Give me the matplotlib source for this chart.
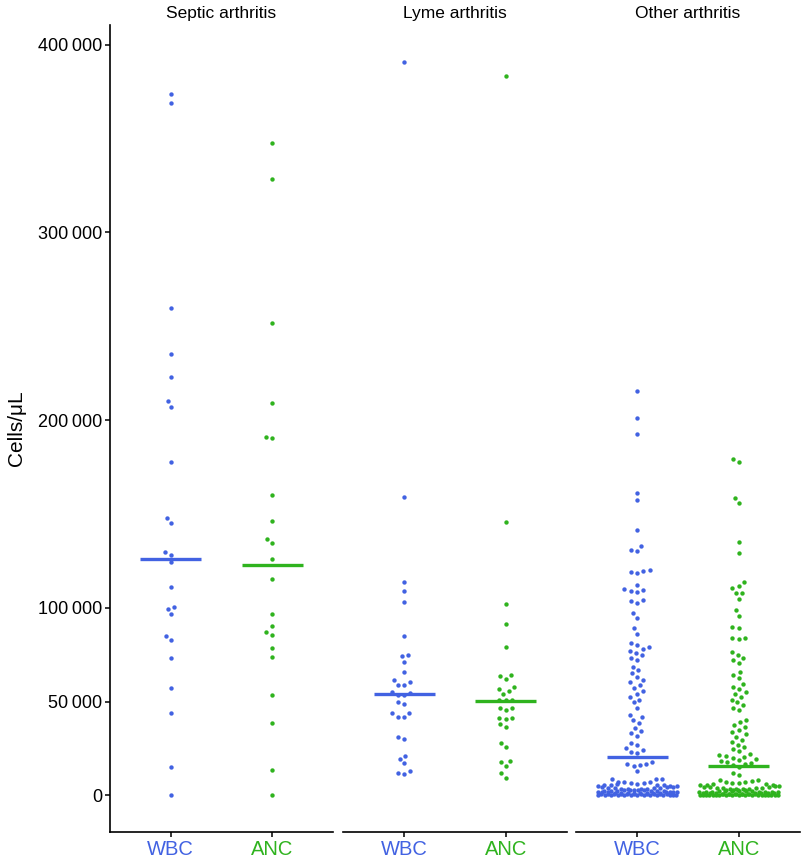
import matplotlib
matplotlib.use("Agg")
import matplotlib.pyplot as plt
import numpy as np

plt.rcParams['font.family'] = ['Liberation Sans', 'DejaVu Sans']

panels = ["Septic arthritis", "Lyme arthritis", "Other arthritis"]
counts = ["WBC", "ANC"]
colors = {"WBC": "#4262E2", "ANC": "#2FB31E"}

# cells per microlitre
septic_wbc = [374000, 369200, 259500, 235400, 222700, 209900, 206700, 177500,
              147800, 145100, 129700, 128000, 124100, 111200, 100500, 99500,
              96500, 85100, 82700, 73300, 57000, 43700, 15200, 200]
septic_anc = [347800, 328700, 251900, 209200, 191000, 190300, 159900, 146000,
              136500, 134500, 125900, 115400, 96700, 90300, 86900, 85700,
              78400, 73700, 53600, 38400, 13600, 200]

lyme_wbc = [390900, 158800, 113500, 108700, 102900, 85000, 75000, 74200,
            71000, 65900, 61600, 60200, 58900, 58600, 55200, 54600, 53500,
            53500, 49800, 48500, 43700, 43700, 41600, 41600, 31200, 30300,
            21200, 19500, 17000, 12900, 12200, 11500]
lyme_anc = [383100, 145500, 102100, 91500, 79100, 63900, 63400, 62100, 57700,
            56500, 55400, 53800, 51000, 50800, 50600, 46400, 46400, 45700,
            41400, 41400, 40900, 37900, 36300, 28000, 26000, 18200, 17900,
            15600, 11700, 9200]

other_wbc = [215600, 200900, 192800, 161100, 157400, 141600, 132900, 130500,
             130300, 120200, 119600, 119000, 118300, 112100, 109800, 109400,
             109000, 108600, 104100, 103600, 102700, 97000, 94400, 89100, 86000,
             81000, 80200, 79000, 78000, 77000, 75800, 74600, 73400, 72300,
             68500, 66600, 65000, 63200,
             61600, 60200, 58700, 57200, 55700, 54200, 52600, 51000, 49600,
             46700, 43000, 41600, 40000, 38500, 36000, 34500, 33000, 31600,
             28000, 26800, 25500, 24300, 23200, 22800,
             18000, 16800, 16500, 16200, 15800, 12900, 8900, 8700, 8500,
             7400, 7100, 6900, 6600, 6400, 6200, 6000, 5800, 5600, 5400,
             5300, 5100, 4900, 4800, 4600, 4500, 4300, 4200, 4000, 3900,
             3700, 3600, 3500, 3300, 3200, 3100, 3000, 2900, 2800, 2700,
             2600, 2500, 2400, 2300, 2200, 2100, 2000, 1900, 1850, 1800,
             1700, 1650, 1600, 1500, 1450, 1400, 1300, 1250, 1200, 1100,
             1050, 1000, 950, 900, 850, 800, 750, 700, 650, 600,
             550, 500, 450, 400, 350, 300, 250, 200, 180, 150,
             120, 100, 80, 60, 40, 20]
other_anc = [179000, 177400, 158600, 156000, 135200, 128900,
             113800, 111700, 110600, 108000, 107600, 104600, 98800, 95600,
             89600, 89200, 84100, 83700, 83300,
             76200, 74800, 73100, 72000, 70600, 66000, 64200, 62600,
             59200, 57800, 56500, 55000, 53800, 52400, 51000, 49600, 48200,
             46800, 45700,
             40200, 39000, 37500, 36300, 35000, 33800, 32500, 31200,
             29700, 28400, 27100, 25800, 24600, 23400, 22200, 21600, 21100,
             20700, 20100, 19500, 18900, 18300, 17700, 17100, 16500, 16200,
             15000, 12200, 10800,
             8400, 8000, 7600, 7300, 7000, 6700, 6400, 6100, 5900, 5700,
             5500, 5300, 5100, 4900, 4700, 4500, 4400, 4200, 4000, 3900,
             3700, 3600, 3400, 3300, 3200, 3000, 2900, 2800, 2700, 2600,
             2500, 2400, 2300, 2200, 2100, 2000, 1900, 1800, 1750, 1700,
             1600, 1550, 1500, 1400, 1350, 1300, 1200, 1150, 1100, 1000,
             950, 900, 850, 800, 750, 700, 650, 600, 550, 500,
             450, 400, 350, 300, 280, 250, 220, 200, 180, 160,
             140, 120, 100, 80, 60, 40, 30, 20, 10]

# levels of the horizontal summary bars
median_wbc = [126000, 54000, 20400]
median_anc = [123000, 50300, 15600]

y_ticks = [0, 50000, 100000, 200000, 300000, 400000]
y_tick_labels = ["0", "50\u2009000", "100\u2009000", "200\u2009000", "300\u2009000", "400\u2009000"]

wbc_data = [septic_wbc, lyme_wbc, other_wbc]
anc_data = [septic_anc, lyme_anc, other_anc]


def swarm_x(ax, center, values, spacing=6.5, half_width=0.4):
    # beeswarm in display pixels, points placed from lowest to highest,
    # anything past the corral width is wrapped back inside
    trans = ax.transData
    ypx = trans.transform([(center, v) for v in values])[:, 1]
    px_per_x = trans.transform([(1, 0)])[0][0] - trans.transform([(0, 0)])[0][0]
    offsets = np.zeros(len(values))
    placed = []
    for k in np.argsort(ypx, kind="stable"):
        y = ypx[k]
        near = [(px, py) for px, py in placed if abs(y - py) < spacing]
        cands = [0.0]
        for px, py in near:
            dx = np.sqrt(spacing ** 2 - (y - py) ** 2)
            cands += [px - dx, px + dx]
        cands.sort(key=lambda c: (round(abs(c), 6), c))
        for c in cands:
            if all((c - px) ** 2 + (y - py) ** 2 >= spacing ** 2 - 1e-6 for px, py in near):
                break
        placed.append((c, y))
        offsets[k] = c / px_per_x
    w = half_width
    offsets = np.where(np.abs(offsets) > w, (offsets + w) % (2 * w) - w, offsets)
    return center + offsets


fig = plt.figure(figsize=(8.02, 8.57), dpi=100)
W, H = 802, 857
lefts = [110, 343, 576]
widths = [223, 224, 224]

for i, panel in enumerate(panels):
    ax = fig.add_axes([lefts[i] / W, 25 / H, widths[i] / W, 807 / H])
    ax.set_xlim(-0.6, 1.6)
    ax.set_ylim(-19500, 410500)

    for j, (vals, m) in enumerate([(wbc_data[i], median_wbc[i]), (anc_data[i], median_anc[i])]):
        col = colors[counts[j]]
        xs = swarm_x(ax, j, vals)
        ax.scatter(xs, vals, s=10, color=col, linewidths=0, zorder=2)
        ax.plot([j - 0.3, j + 0.3], [m, m], color=col, lw=2.4,
                solid_capstyle='butt', zorder=4)

    ax.set_xticks([0, 1])
    ax.set_xticklabels(counts)
    for lbl, c in zip(ax.get_xticklabels(), counts):
        lbl.set_color(colors[c])
    ax.set_title(panel, fontsize=12.5, pad=5)

    for s in ["top", "right"]:
        ax.spines[s].set_visible(False)
    ax.spines["bottom"].set_linewidth(1.2)
    ax.spines["left"].set_linewidth(1.2)
    ax.tick_params(axis="x", labelsize=14.5, length=3.5, width=1.1, pad=2)
    ax.tick_params(axis="y", labelsize=13, length=3.5, width=1.1, pad=2)

    if i == 0:
        ax.set_yticks(y_ticks)
        ax.set_yticklabels(y_tick_labels)
        ax.set_ylabel("Cells/\u03bcL", fontsize=15, labelpad=9)
    else:
        ax.spines["left"].set_visible(False)
        ax.tick_params(axis="y", left=False, labelleft=False)

fig.savefig("out.png", dpi=100, facecolor="white")
